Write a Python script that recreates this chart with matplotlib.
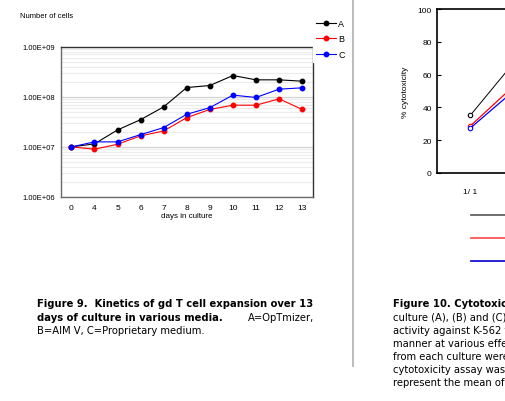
import numpy as np
import matplotlib
matplotlib.use('Agg')
import matplotlib.pyplot as plt
import matplotlib.ticker as ticker
from matplotlib.lines import Line2D

# data, figure 9 (cell expansion)
days = ['0', '4', '5', '6', '7', '8', '9', '10', '11', '12', '13']
cells_a = [1.0e7, 1.15e7, 2.18e7, 3.5e7, 6.3e7, 1.53e8, 1.68e8, 2.66e8, 2.18e8, 2.18e8, 2.05e8]
cells_b = [1.0e7, 9.0e6, 1.13e7, 1.66e7, 2.08e7, 3.84e7, 5.6e7, 6.8e7, 6.8e7, 9.1e7, 5.6e7]
cells_c = [1.0e7, 1.26e7, 1.26e7, 1.76e7, 2.43e7, 4.48e7, 6.08e7, 1.08e8, 9.7e7, 1.42e8, 1.51e8]
ytick_vals = [1e6, 1e7, 1e8, 1e9]
ytick_labels = ['1.00E+06', '1.00E+07', '1.00E+08', '1.00E+09']

# data, figure 10 (cytotoxicity), only the first ratio is in view
ratios = ['1/ 1', '']
cyto_a = [35.1, 87.0]
cyto_b = [28.6, 68.0]
cyto_c = [27.3, 64.0]

W, H = 506, 402
fig = plt.figure(figsize=(W / 100, H / 100), dpi=100)
fig.patch.set_facecolor('white')

def fx(px):
    return px / W

def fy(py):
    return 1 - py / H

chart_font = 'Liberation Sans'
cap_font = 'DejaVu Sans'
cap_size = 7.2

# ---------------- Figure 9 ----------------
ax = fig.add_axes([fx(61), fy(198), fx(313) - fx(61), fy(47.7) - fy(198)])
ax.set_yscale('log')
ax.set_ylim(1e6, 1e9)
x = np.arange(len(days))
ax.set_xlim(-0.45, len(days) - 1 + 0.47)

ax.yaxis.set_minor_locator(ticker.LogLocator(base=10, subs=np.arange(2, 10)))
ax.yaxis.set_minor_formatter(ticker.NullFormatter())
ax.set_yticks(ytick_vals)
ax.set_yticklabels(ytick_labels, family=chart_font, fontsize=5.5)
ax.set_xticks(x)
ax.set_xticklabels(days, family=chart_font, fontsize=6)
ax.tick_params(axis='both', which='both', length=0, pad=4)
ax.tick_params(axis='x', pad=5)
ax.grid(which='minor', axis='y', color='#ececec', lw=0.8)
ax.grid(which='major', axis='y', color='#d2d2d2', lw=0.9)
ax.set_axisbelow(True)
for s in ['left', 'bottom']:
    ax.spines[s].set_color('#6a6a6a')
    ax.spines[s].set_linewidth(1.0)
for s in ['top', 'right']:
    ax.spines[s].set_color('#333333')
    ax.spines[s].set_linewidth(1.0)

ax.plot(x, cells_a, color='black', marker='o', ms=3.2, lw=0.8, label='A')
ax.plot(x, cells_b, color='red', marker='o', ms=3.2, lw=0.8, label='B')
ax.plot(x, cells_c, color='blue', marker='o', ms=3.2, lw=0.8, label='C')

ax.set_xlabel('days in culture', family=chart_font, fontsize=5.8, labelpad=1)
fig.text(fx(20), fy(16), 'Number of cells', family=chart_font, fontsize=5.5,
         va='center', ha='left')

leg = ax.legend(loc='upper left', bbox_to_anchor=(fx(313), fy(17)),
                bbox_transform=fig.transFigure, frameon=True, fancybox=False,
                edgecolor='white', facecolor='white', framealpha=1,
                prop={'family': chart_font, 'size': 6.5}, handlelength=2.3,
                handletextpad=0.2, labelspacing=0.75, borderpad=0.3,
                borderaxespad=0)
leg.set_zorder(5)

fig.text(fx(37), fy(304), 'Figure 9.  Kinetics of gd T cell expansion over 13',
         family=cap_font, fontweight='bold', fontsize=cap_size, va='center')
fig.text(fx(37), fy(318), 'days of culture in various media.',
         family=cap_font, fontweight='bold', fontsize=cap_size, va='center')
fig.text(fx(248), fy(318), 'A=OpTmizer,', family=cap_font, fontsize=cap_size,
         va='center')
fig.text(fx(37), fy(331), 'B=AIM V, C=Proprietary medium.', family=cap_font,
         fontsize=cap_size, va='center')

# separator between the two columns
fig.add_artist(Line2D([fx(352.7), fx(352.7)], [fy(0), fy(367)], color='#b5b5b5',
                      lw=1.3, transform=fig.transFigure))

# ---------------- Figure 10 ----------------
spacing = 70.0
axw = 300.0
ax2 = fig.add_axes([fx(437.3), fy(173.7), axw / W, fy(10.3) - fy(173.7)])
ax2.set_ylim(0, 100)
ax2.set_xlim(-33.0 / spacing, (axw - 33.0) / spacing)
ax2.set_yticks(np.arange(0, 101, 20))
ax2.set_yticklabels([str(v) for v in range(0, 101, 20)], family=chart_font,
                    fontsize=6)
ax2.set_xticks([0])
ax2.set_xticklabels([ratios[0]], family=chart_font, fontsize=6)
ax2.tick_params(axis='y', direction='in', length=3, width=0.8, pad=4)
ax2.tick_params(axis='x', length=0, pad=11)
for s in ax2.spines.values():
    s.set_linewidth(1.2)
    s.set_color('black')
xr = np.arange(len(ratios))
ax2.plot(xr, cyto_a, color='black', lw=0.7, marker='o', ms=3.2, mfc='white',
         mew=0.8, label='A')
ax2.plot(xr, cyto_b, color='red', lw=0.9, marker='o', ms=3.2, mfc='white',
         mew=0.8, label='B')
ax2.plot(xr, cyto_c, color='blue', lw=0.9, marker='o', ms=3.2, mfc='white',
         mew=0.8, label='C')
ax2.set_ylabel('% cytotoxicity', family=chart_font, fontsize=6, labelpad=6)

# legend for fig 10 sits below the chart, its labels fall off the page
leg_handles = [Line2D([], [], color='#555555', lw=1.2),
               Line2D([], [], color='#ff4444', lw=1.2),
               Line2D([], [], color='#0000cc', lw=1.2)]
fig.legend(leg_handles, ['A', 'B', 'C'], loc='upper left',
           bbox_to_anchor=(fx(471), fy(212)), frameon=False, handlelength=6,
           handletextpad=0.5, labelspacing=1.55, borderpad=0, borderaxespad=0,
           prop={'family': chart_font, 'size': 6.5})

cap2 = ['culture (A), (B) and (C)', 'activity against K-562 t',
        'manner at various effe', 'from each culture were',
        'cytotoxicity assay was', 'represent the mean of']
fig.text(fx(393.3), fy(304), 'Figure 10. Cytotoxicity', family=cap_font,
         fontweight='bold', fontsize=cap_size, va='center')
for i, line in enumerate(cap2):
    fig.text(fx(393.3), fy(318 + 13 * i), line, family=cap_font,
             fontsize=cap_size, va='center')

fig.savefig('out.png', dpi=100, facecolor='white')
